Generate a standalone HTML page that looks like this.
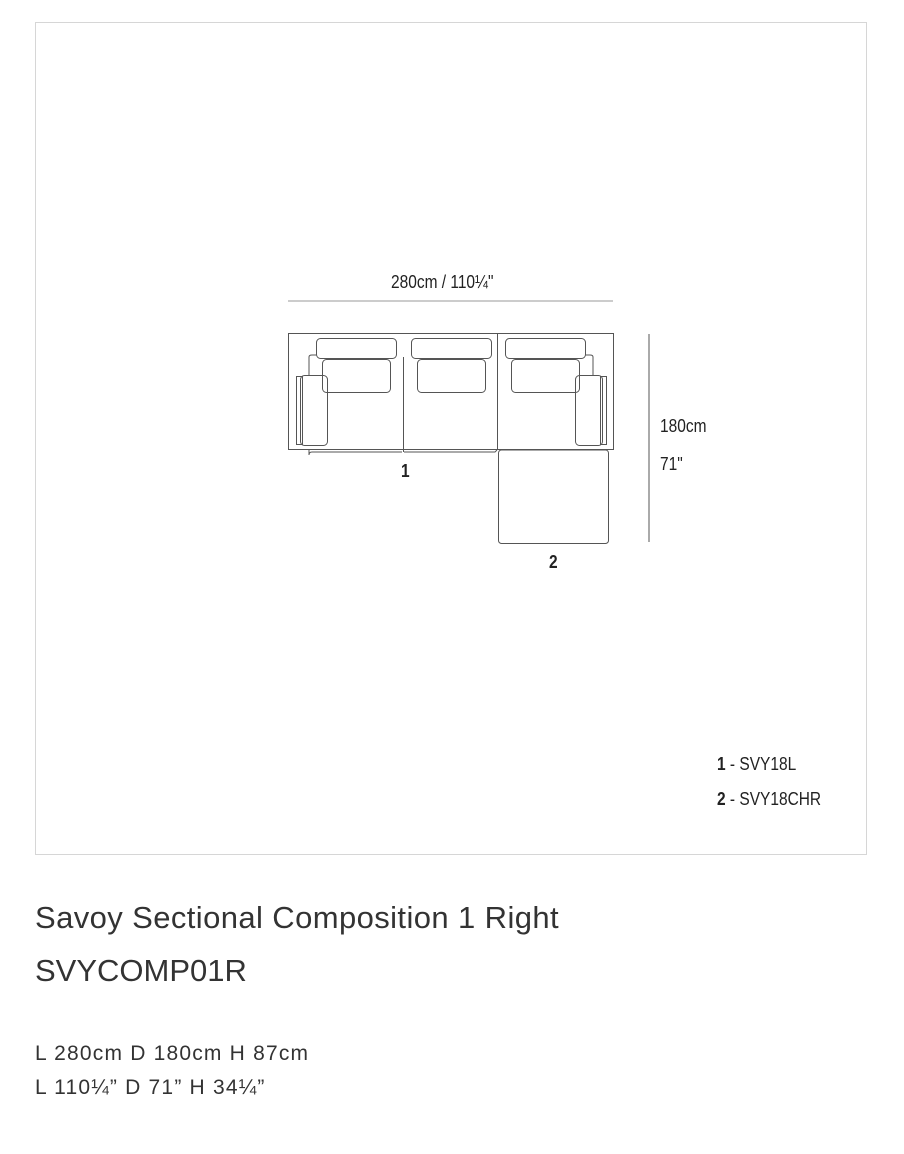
<!DOCTYPE html>
<html><head><meta charset="utf-8"><style>
body{margin:0;background:#fff;width:904px;height:1154px;position:relative;overflow:hidden;font-family:"Liberation Sans",sans-serif;color:#222}
.box{position:absolute;left:35px;top:22px;width:832px;height:833px;border:1px solid #d6d6d6;box-sizing:border-box}
.c{position:absolute;font-size:18px;transform-origin:0 0;transform:scaleX(0.86);white-space:nowrap;color:#222}
.t{position:absolute;left:35px;font-size:31px;color:#333;white-space:nowrap;letter-spacing:0.4px}
.s{position:absolute;left:35px;font-size:21px;color:#333;white-space:nowrap;letter-spacing:1.2px}
</style></head><body>
<div class="box"></div>
<svg style="position:absolute;left:0;top:0" width="904" height="1154" fill="none" stroke="#555" stroke-width="1">
<line x1="288" y1="301" x2="613" y2="301" stroke="#999"/>
<line x1="649" y1="334" x2="649" y2="542" stroke="#555"/>
<rect x="288.5" y="333.5" width="325" height="116"/>
<line x1="497.5" y1="334" x2="497.5" y2="450"/>
<path d="M309 450 L309 455 Q309 452 312 452 L402 452 M404 452 L495 452 L497 450"/>
<line x1="403.5" y1="357" x2="403.5" y2="452"/>
<rect x="498.5" y="450" width="110" height="93.5" rx="3"/>
<g>
<rect x="316.5" y="338.5" width="80" height="20" rx="4"/>
<rect x="322.5" y="359.5" width="68" height="33" rx="4"/>
<rect x="411.5" y="338.5" width="80" height="20" rx="4"/>
<rect x="417.5" y="359.5" width="68" height="33" rx="4"/>
<rect x="505.5" y="338.5" width="80" height="20" rx="4"/>
<rect x="511.5" y="359.5" width="68" height="33" rx="4"/>
</g>
<rect x="296.5" y="376.5" width="6" height="68"/>
<rect x="300.5" y="375.5" width="27" height="70" rx="4"/>
<path d="M309 376 L309 357 Q309 355 312 355 L317 355"/>
<rect x="600.5" y="376.5" width="6" height="68"/>
<rect x="575.5" y="375.5" width="27" height="70" rx="4"/>
<path d="M593 376 L593 357 Q593 355 590 355 L585 355"/>
</svg>
<div class="c" style="left:391px;top:272px">280cm / 110¼"</div>
<div class="c" style="left:660px;top:416px">180cm</div>
<div class="c" style="left:660px;top:454px">71"</div>
<div class="c" style="left:401px;top:461px;font-weight:bold">1</div>
<div class="c" style="left:549px;top:552px;font-weight:bold">2</div>
<div class="c" style="left:717px;top:754px"><b>1</b> - SVY18L</div>
<div class="c" style="left:717px;top:789px"><b>2</b> - SVY18CHR</div>
<div class="t" style="top:900px">Savoy Sectional Composition 1 Right</div>
<div class="t" style="top:953px;letter-spacing:0">SVYCOMP01R</div>
<div class="s" style="top:1042px">L 280cm D 180cm H 87cm</div>
<div class="s" style="top:1076px">L 110¼” D 71” H 34¼”</div>
</body></html>
